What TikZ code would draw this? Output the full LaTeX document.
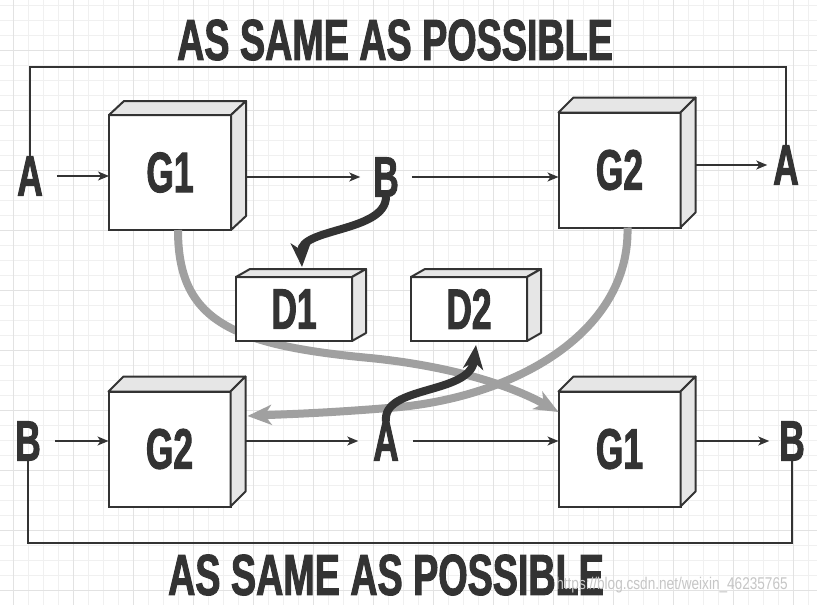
\documentclass[tikz,border=0pt]{standalone}
\usepackage{fontspec}
\newfontfamily\impactfont{Liberation Sans}[FakeStretch=0.62, FakeBold=1.6]
\newfontfamily\headfont{Liberation Sans}[FakeStretch=0.65, FakeBold=1.6]
\newfontfamily\markfont{Liberation Sans}[FakeStretch=0.8]
\usetikzlibrary{arrows.meta,calc}
\definecolor{ink}{HTML}{333333}
\definecolor{pipe}{HTML}{A0A0A0}
\definecolor{side}{HTML}{E6E6E6}
\definecolor{gridlo}{HTML}{F0F0F0}
\definecolor{gridhi}{HTML}{E2E2E2}

% top and right faces of a 3D box: node, depth x, depth y
\newcommand\boxsides[3]{%
  \filldraw[side face] (#1.north west) -- ++(#2,-#3) -- ([shift={(#2,-#3)}]#1.north east) -- (#1.north east) -- cycle;
  \filldraw[side face] (#1.north east) -- ++(#2,-#3) -- ([shift={(#2,-#3)}]#1.south east) -- (#1.south east) -- cycle;}

\begin{document}
\begin{tikzpicture}[
  x=1pt, y=-1pt,
  every node/.style={text=ink, font=\impactfont\bfseries\fontsize{57}{57}\selectfont, inner sep=0pt, outer sep=0pt},
  headline/.style={font=\headfont\bfseries\fontsize{58}{58}\selectfont},
  gbox/.style={draw=ink, line width=2pt, fill=white, minimum width=122pt, minimum height=115pt},
  dbox/.style={gbox, minimum width=116pt, minimum height=64pt},
  side face/.style={draw=ink, fill=side, line width=2pt, line join=round},
  flow/.style={draw=ink, line width=1.4pt, -{Stealth[length=11pt,width=9pt,inset=3pt]}},
  loop/.style={draw=ink, line width=1.6pt},
  pipe/.style={draw=pipe, line width=8pt, -{Stealth[length=24pt,width=20pt,inset=7pt]}},
  link/.style={draw=ink, line width=8pt, -{Stealth[length=24pt,width=20pt,inset=7pt]}},
]
\useasboundingbox (0,0) rectangle (817,605);
\fill[white] (0,0) rectangle (817,605);
% background grid (minor every 15, major every 60)
\foreach \x in {13,28,...,817} \draw[gridlo, line width=1pt] (\x,0) -- (\x,605);
\foreach \y in {5,20,...,605} \draw[gridlo, line width=1pt] (0,\y) -- (817,\y);
\foreach \x in {13,73,...,817} \draw[gridhi, line width=1pt] (\x,0) -- (\x,605);
\foreach \y in {50,110,...,605} \draw[gridhi, line width=1pt] (0,\y) -- (817,\y);

% top row: A -> G1 -> B -> G2 -> A
\node[headline] (ttop) at (395,40) {AS SAME AS POSSIBLE};
\node (aL) at (30,176) {A};
\node[gbox] (g1) at (170,172.5) {G1};
\boxsides{g1}{15}{14}
\node (bT) at (386,177) {B};
\node[gbox] (g2) at (619.5,170) {G2};
\boxsides{g2}{15}{15}
\node (aR) at (786,165) {A};

% bottom row: B -> G2 -> A -> G1 -> B
\node (bL) at (28,441) {B};
\node[gbox] (g2b) at (169.5,449) {G2};
\boxsides{g2b}{15}{15}
\node (aB) at (386,441) {A};
\node[gbox] (g1b) at (619.5,449) {G1};
\boxsides{g1b}{15}{15}
\node (bR) at (792,441) {B};
\node[headline] (tbot) at (386,575) {AS SAME AS POSSIBLE};
\node[font=\markfont\fontsize{17}{17}\selectfont, text=gray!45] (mark) at (672,585) {https://blog.csdn.net/weixin\_46235765};

% feedback loops
\coordinate (loopT) at (400,67);
\coordinate (loopB) at (400,543);
\draw[loop] (aL.north) |- (loopT) -| (aR.north);
\draw[loop] (bL.south) |- (loopB) -| (bR.south);

% thin arrows
\draw[flow] ([xshift=14pt]aL.east) -- (aL -| g1.west);
\draw[flow] ([xshift=15pt]g1.east |- bT) -- ([xshift=-13pt]bT.west);
\draw[flow] ([xshift=13pt]bT.east) -- (bT -| g2.west);
\draw[flow] ([xshift=15pt]g2.east |- aR) -- ([xshift=-6pt]aR.west);
\draw[flow] ([xshift=14pt]bL.east) -- (bL -| g2b.west);
\draw[flow] ([xshift=15pt]g2b.east |- aB) -- ([xshift=-15pt]aB.west);
\draw[flow] ([xshift=14pt]aB.east) -- (aB -| g1b.west);
\draw[flow] ([xshift=15pt]g1b.east |- bR) -- ([xshift=-10pt]bR.west);

% gray crossing pipes (behind D1, D2)
\draw[pipe] ([xshift=8pt]g1.south) .. controls (178,320) and (230,345) .. (370,358)
  .. controls (450,366) and (510,385) .. ([yshift=37pt]g1b.west);
\draw[pipe] ([xshift=8pt]g2.south) .. controls (630,330) and (520,395) .. (400,407)
  .. controls (330,413) and (290,414) .. ([xshift=17pt,yshift=33pt]g2b.east);

% D boxes
\node[dbox] (d1) at (294,309) {D1};
\boxsides{d1}{14}{8}
\node[dbox] (d2) at (469,309) {D2};
\boxsides{d2}{14}{8}

% dark links into D1, D2
\draw[link] (bT.south) .. controls (386,232) and (300,228) .. ([xshift=8pt,yshift=10pt]d1.north);
\draw[link] (aB.north) .. controls (382,385) and (470,395) .. ([xshift=7pt,yshift=-4pt]d2.south);
\end{tikzpicture}
\end{document}
